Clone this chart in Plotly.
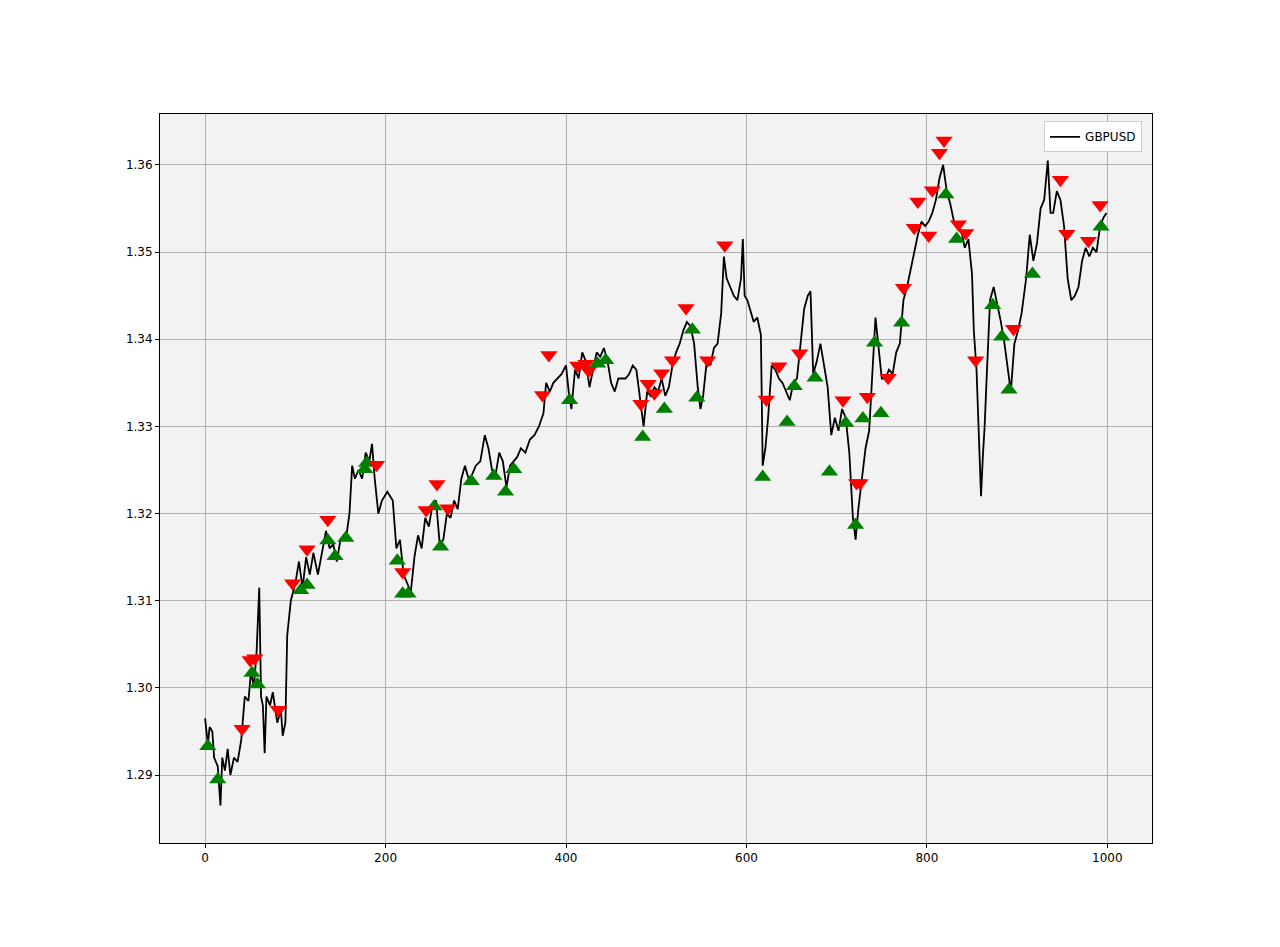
import plotly.graph_objects as go

line_x = [0,3,5,8,10,14,17,19,22,25,28,32,36,40,44,48,51,54,57,60,62,64,66,68,72,75,80,84,86,89,91,95,100,104,108,112,116,120,125,130,134,138,142,146,150,156,160,163,166,170,174,178,182,185,188,192,196,202,208,212,216,220,224,228,232,236,240,244,248,252,256,260,264,268,272,276,280,284,288,292,296,300,305,310,314,318,322,326,330,334,338,342,346,350,355,360,365,370,375,378,382,386,390,395,400,403,406,410,414,418,422,426,430,434,438,442,446,450,454,458,462,466,470,474,478,482,486,490,494,498,502,506,510,514,518,522,526,530,534,538,542,546,549,552,556,560,564,568,572,575,578,582,586,590,594,596,598,601,604,608,612,616,618,621,624,628,632,636,640,644,648,652,656,660,664,668,671,674,678,682,686,690,694,698,702,706,710,714,718,721,724,728,732,736,740,743,746,750,754,758,762,766,770,774,778,782,786,790,794,798,802,806,810,814,818,822,826,830,834,838,842,846,850,852,855,858,860,862,864,866,868,870,874,878,882,886,890,893,897,901,905,910,914,918,922,926,930,934,937,940,944,948,952,956,960,964,968,972,976,980,984,988,992,996,999]
line_y = [1.2965,1.2935,1.2955,1.2950,1.2920,1.2910,1.2865,1.2920,1.2905,1.2930,1.2900,1.2920,1.2915,1.2940,1.2990,1.2985,1.3020,1.3000,1.3040,1.3115,1.2990,1.2980,1.2925,1.2990,1.2980,1.2995,1.2960,1.2975,1.2945,1.2960,1.3060,1.3100,1.3120,1.3145,1.3115,1.3150,1.3130,1.3155,1.3130,1.3160,1.3180,1.3160,1.3165,1.3145,1.3170,1.3170,1.3200,1.3255,1.3240,1.3250,1.3240,1.3270,1.3260,1.3280,1.3240,1.3200,1.3215,1.3225,1.3215,1.3160,1.3170,1.3130,1.3120,1.3110,1.3150,1.3175,1.3160,1.3195,1.3185,1.3210,1.3215,1.3165,1.3170,1.3200,1.3195,1.3215,1.3205,1.3240,1.3255,1.3240,1.3245,1.3255,1.3260,1.3290,1.3275,1.3250,1.3245,1.3270,1.3260,1.3230,1.3255,1.3260,1.3265,1.3275,1.3270,1.3285,1.3290,1.3300,1.3315,1.3350,1.3340,1.3350,1.3355,1.3360,1.3370,1.3340,1.3320,1.3365,1.3355,1.3385,1.3375,1.3345,1.3365,1.3385,1.3380,1.3390,1.3375,1.3350,1.3340,1.3355,1.3355,1.3355,1.3360,1.3370,1.3365,1.3330,1.3300,1.3340,1.3335,1.3345,1.3340,1.3355,1.3335,1.3345,1.3370,1.3385,1.3395,1.3410,1.3420,1.3415,1.3395,1.3345,1.3320,1.3335,1.3375,1.3370,1.3390,1.3395,1.3430,1.3495,1.3470,1.3460,1.3450,1.3445,1.3470,1.3515,1.3450,1.3445,1.3435,1.3420,1.3425,1.3405,1.3255,1.3275,1.3310,1.3370,1.3365,1.3355,1.3350,1.3340,1.3330,1.3350,1.3355,1.3395,1.3435,1.3450,1.3455,1.3360,1.3375,1.3395,1.3370,1.3345,1.3290,1.3310,1.3295,1.3320,1.3310,1.3270,1.3195,1.3170,1.3205,1.3240,1.3275,1.3295,1.3370,1.3425,1.3395,1.3355,1.3355,1.3365,1.3360,1.3385,1.3395,1.3445,1.3460,1.3480,1.3500,1.3520,1.3535,1.3530,1.3535,1.3545,1.3560,1.3585,1.3600,1.3570,1.3555,1.3535,1.3530,1.3525,1.3505,1.3515,1.3475,1.3410,1.3365,1.3280,1.3220,1.3265,1.3300,1.3350,1.3400,1.3445,1.3460,1.3440,1.3420,1.3395,1.3360,1.3340,1.3395,1.3410,1.3430,1.3470,1.3520,1.3490,1.3510,1.3550,1.3560,1.3605,1.3545,1.3545,1.3570,1.3560,1.3530,1.3470,1.3445,1.3450,1.3460,1.3490,1.3505,1.3495,1.3505,1.3500,1.3530,1.3540,1.3545]

buy_x = [3,14,52,58,106,113,136,144,156,177,179,213,219,225,254,261,295,320,333,342,404,435,444,485,509,540,545,618,645,653,676,692,710,721,729,742,749,772,821,833,873,883,891,917,993]
buy_y = [1.2933,1.2895,1.3017,1.3004,1.3112,1.3118,1.3169,1.3151,1.3172,1.3251,1.3258,1.3146,1.3108,1.3108,1.3208,1.3162,1.3237,1.3243,1.3225,1.3251,1.3330,1.3372,1.3376,1.3288,1.3320,1.3411,1.3333,1.3242,1.3305,1.3346,1.3356,1.3248,1.3304,1.3187,1.3309,1.3396,1.3315,1.3419,1.3566,1.3515,1.3439,1.3403,1.3342,1.3475,1.3529]

sell_x = [41,50,55,81,97,113,136,190,219,245,257,269,374,381,413,422,425,483,491,498,506,518,533,557,576,622,636,659,707,722,726,734,757,774,786,790,802,806,814,819,835,843,854,896,948,955,979,992]
sell_y = [1.2953,1.3032,1.3034,1.2975,1.3120,1.3159,1.3193,1.3256,1.3133,1.3204,1.3234,1.3206,1.3336,1.3382,1.3370,1.3372,1.3364,1.3326,1.3349,1.3338,1.3361,1.3376,1.3436,1.3376,1.3508,1.3331,1.3369,1.3384,1.3330,1.3235,1.3235,1.3334,1.3356,1.3459,1.3528,1.3558,1.3519,1.3571,1.3614,1.3628,1.3532,1.3522,1.3376,1.3412,1.3583,1.3521,1.3513,1.3554]

fig = go.Figure()
fig.add_trace(go.Scatter(x=line_x, y=line_y, mode="lines", name="GBPUSD",
                         line=dict(color="black", width=1.8)))
fig.add_trace(go.Scatter(x=buy_x, y=buy_y, mode="markers", showlegend=False,
                         marker=dict(symbol="triangle-up", color="green", size=15)))
fig.add_trace(go.Scatter(x=sell_x, y=sell_y, mode="markers", showlegend=False,
                         marker=dict(symbol="triangle-down", color="red", size=15)))

axis_common = dict(showgrid=True, gridcolor="#b0b0b0", gridwidth=1, zeroline=False,
                   showline=True, linecolor="black", mirror=True, ticks="outside",
                   ticklen=4, tickcolor="black", tickfont=dict(size=12, color="black"))
fig.update_xaxes(range=[-50, 1049.5], tickvals=[0, 200, 400, 600, 800, 1000], **axis_common)
fig.update_yaxes(range=[1.2822, 1.36585], tickvals=[1.29, 1.30, 1.31, 1.32, 1.33, 1.34, 1.35, 1.36],
                 tickformat=".2f", **axis_common)
fig.update_layout(
    width=1280, height=947, paper_bgcolor="white", plot_bgcolor="#f2f2f2",
    margin=dict(l=152, r=136, t=106, b=112),
    font=dict(family="DejaVu Sans", size=12, color="black"),
    legend=dict(x=0.99, y=0.99, xanchor="right", yanchor="top", bgcolor="white",
                bordercolor="#cccccc", borderwidth=1, font=dict(size=12)),
)
fig.write_html("out.html")
